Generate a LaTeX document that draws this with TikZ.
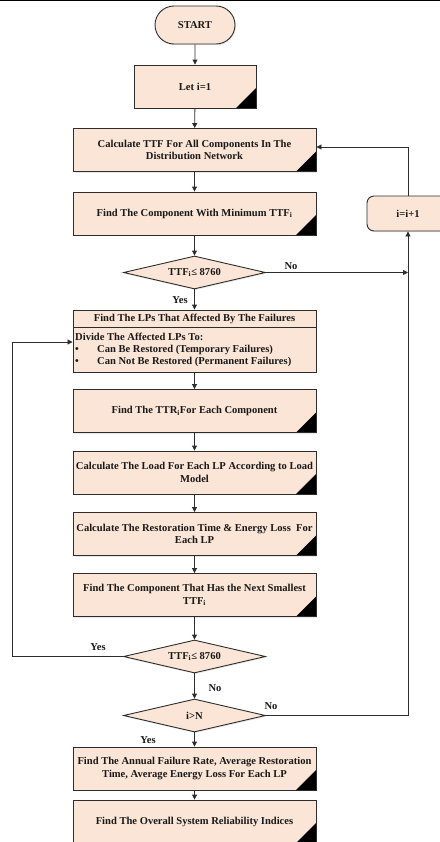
\documentclass[tikz,border=0pt]{standalone}
\usepackage{fontspec}
\setmainfont{Liberation Serif}
\usetikzlibrary{shapes.geometric,shapes.misc,arrows.meta,shadows}
\definecolor{peach}{RGB}{251,229,214}
\definecolor{edge}{RGB}{45,45,45}
\tikzset{
  base/.style={draw=edge, line width=0.9bp, fill=peach, font=\fontsize{10.6}{12.8}\selectfont\bfseries, text=black!90,
    align=center, inner sep=1bp,
    drop shadow={opacity=0.18, shadow xshift=1bp, shadow yshift=-1.2bp}},
  procbox/.style={base, rectangle, minimum width=243bp, minimum height=43bp,
    path picture={\fill[black] (path picture bounding box.south east) -- ++(-20bp,0bp) -- ++(20bp,20bp) -- cycle;}},
  smallbox/.style={procbox, minimum width=122bp},
  termbox/.style={base, rounded rectangle, minimum width=82bp, minimum height=38bp},
  decbox/.style={base, diamond, aspect=4.3, minimum width=142bp, minimum height=33bp, inner sep=0bp},
  incbox/.style={base, rectangle, rounded corners=7bp, minimum width=82bp, minimum height=35bp},
  conn/.style={draw=edge, line width=0.9bp},
  arr/.style={conn, -{Triangle[length=5bp,width=5bp]}},
  lab/.style={font=\fontsize{10.6}{12.8}\selectfont\bfseries, text=black!90, inner sep=0bp},
}
\begin{document}
\begin{tikzpicture}[x=1bp,y=-1bp]
\useasboundingbox (0,0) rectangle (440,842);
\clip (0,0) rectangle (440,842);
\draw[black, line width=1.6bp] (0,0.6) -- (440,0.6);

\node[termbox] (start) at (195,25) {START};
\node[smallbox] (leti) at (195,86.5) {Let i=1};
\node[procbox] (calc) at (194.5,150) {Calculate TTF For All Components In The\\Distribution Network};
\node[procbox] (findmin) at (194.5,213.5) {Find The Component With Minimum TTF\textsubscript{i}};
\node[decbox] (d1) at (194.5,272.5) {TTF\textsubscript{i}≤ 8760};

\node[base, rectangle, minimum width=243bp, minimum height=62bp, inner sep=0bp] (lps) at (194.5,341) {};
\draw[conn] (73,327) -- (316,327);
\node[lab, anchor=center] (lpst) at (194.5,318.5) {Find The LPs That Affected By The Failures};
\node[lab, anchor=west] (lpsa) at (75,337) {Divide The Affected LPs To:};
\node[lab, anchor=west] (b1) at (75,350) {•};
\node[lab, anchor=west] (lpsb) at (97,350) {Can Be Restored (Temporary Failures)};
\node[lab, anchor=west] (b2) at (75,362) {•};
\node[lab, anchor=west] (lpsc) at (97,362) {Can Not Be Restored (Permanent Failures)};

\node[procbox] (ttr) at (194.5,411) {Find The TTR\textsubscript{i}For Each Component};
\node[procbox] (load) at (194.5,472.5) {Calculate The Load For Each LP According to Load\\Model};
\node[procbox] (rest) at (194.5,534) {Calculate The Restoration Time \& Energy Loss~ For\\Each LP};
\node[procbox] (next) at (194.5,595) {Find The Component That Has the Next Smallest\\TTF\textsubscript{i}};
\node[decbox] (d2) at (194.5,656.5) {TTF\textsubscript{i}≤ 8760};
\node[decbox] (d3) at (194.5,715.5) {i>N};
\node[procbox] (annual) at (194.5,768.5) {Find The Annual Failure Rate, Average Restoration\\Time, Average Energy Loss For Each LP};
\node[procbox] (overall) at (194.5,821.5) {Find The Overall System Reliability Indices};
\node[incbox] (inc) at (408,213.5) {i=i+1};

\coordinate (r1) at (408,272.5);
\coordinate (r2) at (408,715.5);
\coordinate (r3) at (408,147);
\coordinate (l1) at (12,656.5);
\coordinate (l2) at (12,342);

\draw[arr] (start) -- (leti);
\draw[arr] (leti) -- (calc);
\draw[arr] (calc) -- (findmin);
\draw[arr] (findmin) -- (d1);
\draw[arr] (d1.east) -- (r1);
\draw[arr] (d1) -- (lps);
\draw[arr] (lps) -- (ttr);
\draw[arr] (ttr) -- (load);
\draw[arr] (load) -- (rest);
\draw[arr] (rest) -- (next);
\draw[arr] (next) -- (d2);
\draw[arr] (d2.west) -- (l1) -- (l2) -- (l2 -| lps.west);
\draw[arr] (d2) -- (d3);
\draw[arr] (d3.east) -- (r2) -- (inc.south);
\draw[arr] (d3) -- (annual);
\draw[arr] (annual) -- (overall);
\draw[arr] (inc.north) -- (r3) -- (r3 -| calc.east);

\node[lab] (no1) at (291,266) {No};
\node[lab] (yes1) at (180,300) {Yes};
\node[lab] (yes2) at (98,647) {Yes};
\node[lab] (no2) at (215,688) {No};
\node[lab] (no3) at (271,706) {No};
\node[lab] (yes3) at (148,740) {Yes};
\end{tikzpicture}
\end{document}
